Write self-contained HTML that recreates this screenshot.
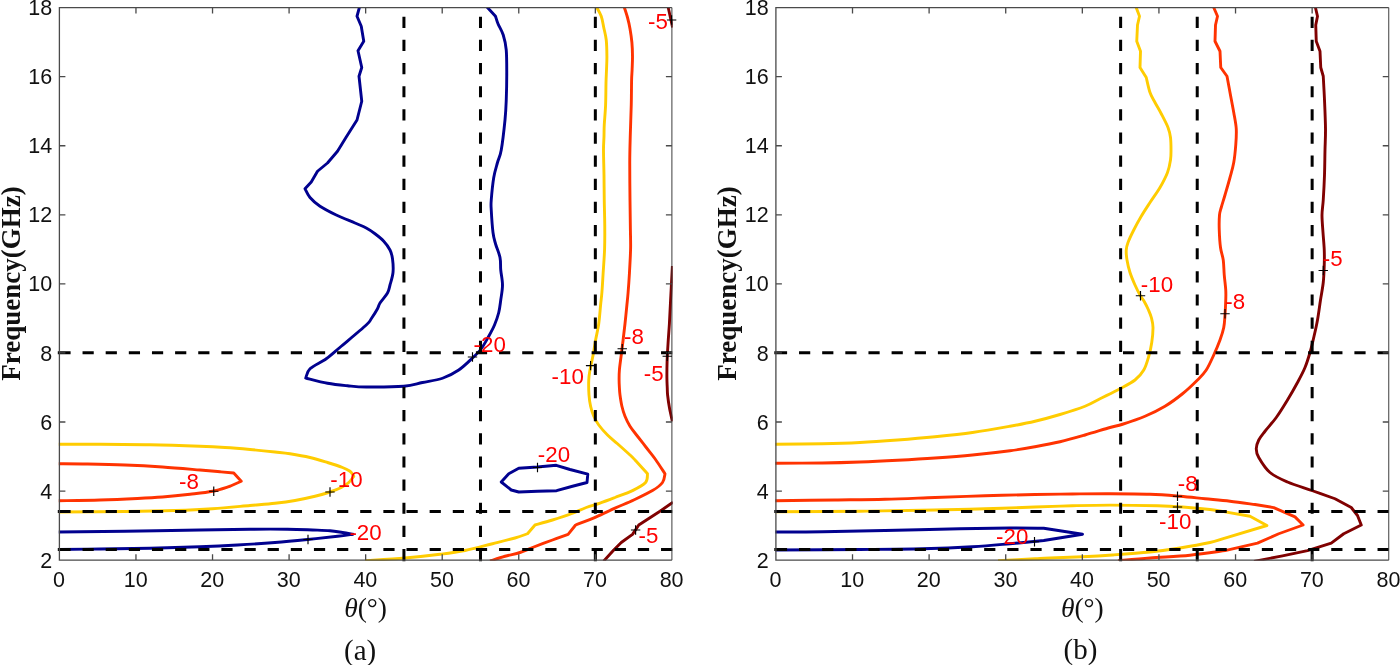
<!DOCTYPE html>
<html><head><meta charset="utf-8"><title>Contour plots</title>
<style>html,body{margin:0;padding:0;background:#fff}svg{display:block;will-change:transform;opacity:0.999}text{font-family:"Liberation Sans",sans-serif}.se{font-family:"Liberation Serif",serif}</style>
</head><body>
<svg width="1400" height="665" viewBox="0 0 1400 665">
<rect width="1400" height="665" fill="#fff"/>
<defs>
<clipPath id="cl"><rect x="58.80" y="7.20" width="613.90" height="553.45"/></clipPath>
<clipPath id="cr"><rect x="775.30" y="7.20" width="614.25" height="553.45"/></clipPath>
</defs>
<g clip-path="url(#cl)">
<path d="M359.50,7.00 L357.00,16.25 L361.25,26.25 L363.75,41.25 L358.00,50.75 L361.75,67.50 L359.00,76.25 L361.75,101.25 L357.00,120.00 L346.25,137.00 L337.50,151.25 L327.50,163.00 L317.50,171.25 L311.25,182.00 L305.00,188.75 L305.00,188.75 C305.83,190.21 307.50,194.58 310.00,197.50 C312.50,200.42 315.62,203.33 320.00,206.25 C324.38,209.17 330.42,212.21 336.25,215.00 C342.08,217.79 350.00,220.83 355.00,223.00 C360.00,225.17 362.92,226.21 366.25,228.00 C369.58,229.79 372.08,231.54 375.00,233.75 C377.92,235.96 381.25,238.54 383.75,241.25 C386.25,243.96 388.54,247.08 390.00,250.00 C391.46,252.92 392.00,255.00 392.50,258.75 C393.00,262.50 393.42,268.12 393.00,272.50 C392.58,276.88 390.92,281.58 390.00,285.00 C389.08,288.42 389.17,290.00 387.50,293.00 C385.83,296.00 381.67,300.38 380.00,303.00 C378.33,305.62 378.96,306.12 377.50,308.75 C376.04,311.38 373.12,316.04 371.25,318.75 C369.38,321.46 371.25,320.42 366.25,325.00 C361.25,329.58 347.92,340.62 341.25,346.25 C334.58,351.88 331.46,355.00 326.25,358.75 C321.04,362.50 313.42,365.54 310.00,368.75 C306.58,371.96 306.46,376.46 305.75,378.00 L305.75,378.00 C309.38,378.88 320.54,381.96 327.50,383.25 C334.46,384.54 341.04,385.12 347.50,385.75 C353.96,386.38 356.88,386.92 366.25,387.00 C375.62,387.08 394.38,387.00 403.75,386.25 C413.12,385.50 416.04,383.83 422.50,382.50 C428.96,381.17 436.46,380.33 442.50,378.25 C448.54,376.17 453.75,373.38 458.75,370.00 C463.75,366.62 468.75,361.54 472.50,358.00 C476.25,354.46 478.54,352.38 481.25,348.75 C483.96,345.12 486.54,340.21 488.75,336.25 C490.96,332.29 492.83,328.96 494.50,325.00 C496.17,321.04 497.71,316.67 498.75,312.50 C499.79,308.33 500.12,304.58 500.75,300.00 C501.38,295.42 502.50,290.00 502.50,285.00 C502.50,280.00 501.17,274.58 500.75,270.00 C500.33,265.42 500.88,261.88 500.00,257.50 C499.12,253.12 496.67,247.92 495.50,243.75 C494.33,239.58 493.71,238.12 493.00,232.50 C492.29,226.88 491.54,215.42 491.25,210.00 C490.96,204.58 490.83,205.42 491.25,200.00 C491.67,194.58 492.71,183.75 493.75,177.50 C494.79,171.25 496.25,167.08 497.50,162.50 C498.75,157.92 500.00,157.08 501.25,150.00 C502.50,142.92 504.17,128.33 505.00,120.00 C505.83,111.67 505.96,107.50 506.25,100.00 C506.54,92.50 506.75,83.33 506.75,75.00 C506.75,66.67 506.83,56.67 506.25,50.00 C505.67,43.33 504.62,39.38 503.25,35.00 C501.88,30.62 499.29,26.88 498.00,23.75 C496.71,20.62 495.92,17.50 495.50,16.25 L495.50,16.25 L487.00,7.00" fill="none" stroke="#00008F" stroke-width="2.9" stroke-linejoin="round" stroke-linecap="butt"/>
<path d="M501.25,482.00 L508.75,473.75 L518.75,468.25 L537.50,467.00 L556.25,465.30 L570.00,469.50 L587.80,474.20 L587.00,482.50 L572.50,486.25 L556.60,490.70 L537.50,491.25 L518.75,492.00 L511.25,490.00 L501.25,482.00Z" fill="none" stroke="#00008F" stroke-width="2.9" stroke-linejoin="round" stroke-linecap="butt"/>
<path d="M58.00,532.00 C69.17,531.88 101.33,531.58 125.00,531.25 C148.67,530.92 179.17,530.33 200.00,530.00 C220.83,529.67 235.42,529.38 250.00,529.25 C264.58,529.12 277.08,529.12 287.50,529.25 C297.92,529.38 305.42,529.75 312.50,530.00 C319.58,530.25 325.00,530.33 330.00,530.75 C335.00,531.17 338.67,531.92 342.50,532.50 C346.33,533.08 351.25,533.96 353.00,534.25 L353.00,534.25 C350.42,534.58 345.08,535.38 337.50,536.25 C329.92,537.12 317.92,538.46 307.50,539.50 C297.08,540.54 286.67,541.58 275.00,542.50 C263.33,543.42 250.00,544.29 237.50,545.00 C225.00,545.71 214.58,546.21 200.00,546.75 C185.42,547.29 166.67,547.88 150.00,548.25 C133.33,548.62 115.33,548.79 100.00,549.00 C84.67,549.21 65.00,549.42 58.00,549.50" fill="none" stroke="#00008F" stroke-width="2.9" stroke-linejoin="round" stroke-linecap="butt"/>
<path d="M58.00,444.25 C65.00,444.25 84.67,444.17 100.00,444.25 C115.33,444.33 133.33,444.42 150.00,444.75 C166.67,445.08 187.50,445.79 200.00,446.25 C212.50,446.71 216.67,446.96 225.00,447.50 C233.33,448.04 241.67,448.75 250.00,449.50 C258.33,450.25 268.33,451.29 275.00,452.00 C281.67,452.71 284.17,452.83 290.00,453.75 C295.83,454.67 303.75,456.04 310.00,457.50 C316.25,458.96 322.08,460.83 327.50,462.50 C332.92,464.17 338.75,466.04 342.50,467.50 C346.25,468.96 348.12,469.79 350.00,471.25 C351.88,472.71 353.12,475.42 353.75,476.25 L353.75,476.25 C352.92,477.29 350.83,480.62 348.75,482.50 C346.67,484.38 344.38,485.92 341.25,487.50 C338.12,489.08 334.38,490.54 330.00,492.00 C325.62,493.46 320.83,494.83 315.00,496.25 C309.17,497.67 301.67,499.33 295.00,500.50 C288.33,501.67 282.50,502.42 275.00,503.25 C267.50,504.08 260.42,504.58 250.00,505.50 C239.58,506.42 225.00,507.92 212.50,508.75 C200.00,509.58 189.58,510.04 175.00,510.50 C160.42,510.96 144.50,511.25 125.00,511.50 C105.50,511.75 69.17,511.92 58.00,512.00" fill="none" stroke="#FFCC00" stroke-width="2.9" stroke-linejoin="round" stroke-linecap="butt"/>
<path d="M58.00,463.75 C62.92,463.79 76.33,463.79 87.50,464.00 C98.67,464.21 112.50,464.50 125.00,465.00 C137.50,465.50 150.00,466.17 162.50,467.00 C175.00,467.83 190.42,469.21 200.00,470.00 C209.58,470.79 214.38,471.25 220.00,471.75 C225.62,472.25 231.46,472.79 233.75,473.00 L233.75,473.00 L241.25,481.25 L230.00,486.25 L230.00,486.25 C227.08,487.08 219.17,489.92 212.50,491.25 C205.83,492.58 198.33,493.29 190.00,494.25 C181.67,495.21 171.25,496.29 162.50,497.00 C153.75,497.71 147.92,498.00 137.50,498.50 C127.08,499.00 113.25,499.62 100.00,500.00 C86.75,500.38 65.00,500.62 58.00,500.75" fill="none" stroke="#FF3300" stroke-width="2.9" stroke-linejoin="round" stroke-linecap="butt"/>
<path d="M596.50,7.00 C597.29,8.54 600.04,12.83 601.25,16.25 C602.46,19.67 602.92,23.54 603.75,27.50 C604.58,31.46 605.73,35.21 606.25,40.00 C606.77,44.79 606.86,51.25 606.90,56.25 C606.94,61.25 606.65,65.58 606.50,70.00 C606.35,74.42 606.15,76.92 606.00,82.75 C605.85,88.58 605.89,97.96 605.60,105.00 C605.31,112.04 604.52,119.79 604.25,125.00 C603.98,130.21 604.12,132.08 604.00,136.25 C603.88,140.42 603.50,143.54 603.50,150.00 C603.50,156.46 603.88,166.67 604.00,175.00 C604.12,183.33 604.12,191.67 604.25,200.00 C604.38,208.33 604.69,216.88 604.75,225.00 C604.81,233.12 604.88,240.62 604.60,248.75 C604.33,256.88 603.55,266.46 603.10,273.75 C602.65,281.04 602.32,287.29 601.90,292.50 C601.48,297.71 601.12,299.79 600.60,305.00 C600.08,310.21 599.58,317.92 598.75,323.75 C597.92,329.58 596.54,334.79 595.60,340.00 C594.66,345.21 594.03,350.00 593.10,355.00 C592.17,360.00 590.73,365.83 590.00,370.00 C589.27,374.17 588.92,375.83 588.75,380.00 C588.58,384.17 588.69,390.62 589.00,395.00 C589.31,399.38 589.81,402.71 590.60,406.25 C591.39,409.79 592.39,413.12 593.75,416.25 C595.11,419.38 596.46,421.88 598.75,425.00 C601.04,428.12 604.38,431.88 607.50,435.00 C610.62,438.12 613.75,440.42 617.50,443.75 C621.25,447.08 627.08,452.29 630.00,455.00 C632.92,457.71 632.08,456.88 635.00,460.00 C637.92,463.12 645.42,471.46 647.50,473.75 L647.50,473.75 C647.18,475.21 648.10,479.69 645.60,482.50 C643.10,485.31 637.60,488.10 632.50,490.60 C627.40,493.10 620.42,495.42 615.00,497.50 C609.58,499.58 604.79,501.43 600.00,503.10 C595.21,504.77 591.04,505.73 586.25,507.50 C581.46,509.27 576.88,511.67 571.25,513.75 C565.62,515.83 558.54,518.12 552.50,520.00 C546.46,521.88 537.92,524.17 535.00,525.00 L535.00,525.00 L527.50,533.75 L527.50,533.75 C525.42,534.46 520.83,536.33 515.00,538.00 C509.17,539.67 500.83,541.67 492.50,543.75 C484.17,545.83 473.75,548.75 465.00,550.50 C456.25,552.25 450.00,553.00 440.00,554.25 C430.00,555.50 417.50,556.91 405.00,558.00 C392.50,559.09 371.67,560.33 365.00,560.80" fill="none" stroke="#FFCC00" stroke-width="2.9" stroke-linejoin="round" stroke-linecap="butt"/>
<path d="M624.20,7.00 C624.75,8.75 626.53,13.88 627.50,17.50 C628.47,21.12 629.27,24.58 630.00,28.75 C630.73,32.92 631.48,37.92 631.90,42.50 C632.32,47.08 632.47,51.67 632.50,56.25 C632.53,60.83 632.25,66.04 632.10,70.00 C631.95,73.96 631.74,74.17 631.60,80.00 C631.46,85.83 631.48,95.62 631.25,105.00 C631.02,114.38 630.50,126.62 630.25,136.25 C630.00,145.88 629.79,152.12 629.75,162.75 C629.71,173.38 629.89,188.79 630.00,200.00 C630.11,211.21 630.30,221.88 630.40,230.00 C630.50,238.12 630.77,241.46 630.60,248.75 C630.43,256.04 629.82,266.46 629.40,273.75 C628.98,281.04 628.52,287.29 628.10,292.50 C627.68,297.71 627.42,299.79 626.90,305.00 C626.38,310.21 625.63,317.92 625.00,323.75 C624.37,329.58 623.73,334.79 623.10,340.00 C622.48,345.21 621.87,350.00 621.25,355.00 C620.63,360.00 619.76,365.83 619.40,370.00 C619.04,374.17 619.10,377.04 619.10,380.00 C619.10,382.96 619.25,385.25 619.40,387.75 C619.55,390.25 619.58,391.92 620.00,395.00 C620.42,398.08 621.07,402.71 621.90,406.25 C622.73,409.79 623.65,412.92 625.00,416.25 C626.35,419.58 627.92,422.92 630.00,426.25 C632.08,429.58 634.79,432.71 637.50,436.25 C640.21,439.79 643.33,443.75 646.25,447.50 C649.17,451.25 651.88,454.38 655.00,458.75 C658.12,463.12 663.33,471.25 665.00,473.75 L665.00,473.75 C664.58,475.21 664.58,479.69 662.50,482.50 C660.42,485.31 657.29,487.68 652.50,490.60 C647.71,493.52 640.00,497.08 633.75,500.00 C627.50,502.92 621.25,505.28 615.00,508.10 C608.75,510.92 602.82,514.08 596.25,516.90 C589.68,519.72 579.04,523.65 575.60,525.00 L575.60,525.00 L568.10,534.40 L568.10,534.40 C565.50,535.33 558.43,537.82 552.50,540.00 C546.57,542.18 537.92,545.42 532.50,547.50 C527.08,549.58 524.58,551.04 520.00,552.50 C515.42,553.96 510.00,554.83 505.00,556.25 C500.00,557.67 492.50,560.21 490.00,561.00" fill="none" stroke="#FF3300" stroke-width="2.9" stroke-linejoin="round" stroke-linecap="butt"/>
<path d="M668.10,7.00 L672.60,27.50" fill="none" stroke="#800000" stroke-width="2.9" stroke-linejoin="round" stroke-linecap="butt"/>
<path d="M672.40,266.00 C672.10,271.67 671.10,290.38 670.60,300.00 C670.10,309.62 669.82,316.67 669.40,323.75 C668.98,330.83 668.48,336.25 668.10,342.50 C667.72,348.75 667.30,355.42 667.10,361.25 C666.90,367.08 666.88,373.08 666.90,377.50 C666.92,381.92 667.13,384.83 667.25,387.75 C667.37,390.67 667.24,391.71 667.60,395.00 C667.96,398.29 668.60,403.08 669.40,407.50 C670.20,411.92 671.90,419.17 672.40,421.50" fill="none" stroke="#800000" stroke-width="2.9" stroke-linejoin="round" stroke-linecap="butt"/>
<path d="M673.00,502.30 L660.00,511.25 L638.75,525.00 L632.50,534.40 L621.25,542.50 L613.75,550.00 L603.60,561.20" fill="none" stroke="#800000" stroke-width="2.9" stroke-linejoin="round" stroke-linecap="butt"/>
</g>
<path d="M57.80,352.69H70.60 M82.54,352.69H93.74 M105.68,352.69H116.88 M128.82,352.69H140.02 M151.96,352.69H163.16 M175.10,352.69H186.30 M198.24,352.69H209.44 M221.38,352.69H232.58 M244.52,352.69H255.72 M267.66,352.69H278.86 M290.80,352.69H302.00 M313.94,352.69H325.14 M337.08,352.69H348.28 M360.22,352.69H371.42 M383.36,352.69H394.56 M406.50,352.69H417.70 M429.64,352.69H440.84 M452.78,352.69H463.98 M475.92,352.69H487.12 M499.06,352.69H510.26 M522.20,352.69H533.40 M545.34,352.69H556.54 M568.48,352.69H579.68 M591.62,352.69H602.82 M614.76,352.69H625.96 M637.90,352.69H649.10 M661.04,352.69H672.24 M57.80,511.55H70.60 M82.54,511.55H93.74 M105.68,511.55H116.88 M128.82,511.55H140.02 M151.96,511.55H163.16 M175.10,511.55H186.30 M198.24,511.55H209.44 M221.38,511.55H232.58 M244.52,511.55H255.72 M267.66,511.55H278.86 M290.80,511.55H302.00 M313.94,511.55H325.14 M337.08,511.55H348.28 M360.22,511.55H371.42 M383.36,511.55H394.56 M406.50,511.55H417.70 M429.64,511.55H440.84 M452.78,511.55H463.98 M475.92,511.55H487.12 M499.06,511.55H510.26 M522.20,511.55H533.40 M545.34,511.55H556.54 M568.48,511.55H579.68 M591.62,511.55H602.82 M614.76,511.55H625.96 M637.90,511.55H649.10 M661.04,511.55H672.24 M57.80,549.54H70.60 M82.54,549.54H93.74 M105.68,549.54H116.88 M128.82,549.54H140.02 M151.96,549.54H163.16 M175.10,549.54H186.30 M198.24,549.54H209.44 M221.38,549.54H232.58 M244.52,549.54H255.72 M267.66,549.54H278.86 M290.80,549.54H302.00 M313.94,549.54H325.14 M337.08,549.54H348.28 M360.22,549.54H371.42 M383.36,549.54H394.56 M406.50,549.54H417.70 M429.64,549.54H440.84 M452.78,549.54H463.98 M475.92,549.54H487.12 M499.06,549.54H510.26 M522.20,549.54H533.40 M545.34,549.54H556.54 M568.48,549.54H579.68 M591.62,549.54H602.82 M614.76,549.54H625.96 M637.90,549.54H649.10 M661.04,549.54H672.24 M403.93,561.35V548.95 M403.93,537.01V525.81 M403.93,513.87V502.67 M403.93,490.73V479.53 M403.93,467.59V456.39 M403.93,444.45V433.25 M403.93,421.31V410.11 M403.93,398.17V386.97 M403.93,375.03V363.83 M403.93,351.89V340.69 M403.93,328.75V317.55 M403.93,305.61V294.41 M403.93,282.47V271.27 M403.93,259.33V248.13 M403.93,236.19V224.99 M403.93,213.05V201.85 M403.93,189.91V178.71 M403.93,166.77V155.57 M403.93,143.63V132.43 M403.93,120.49V109.29 M403.93,97.35V86.15 M403.93,74.21V63.01 M403.93,51.07V39.87 M403.93,27.93V16.73 M480.49,561.35V548.95 M480.49,537.01V525.81 M480.49,513.87V502.67 M480.49,490.73V479.53 M480.49,467.59V456.39 M480.49,444.45V433.25 M480.49,421.31V410.11 M480.49,398.17V386.97 M480.49,375.03V363.83 M480.49,351.89V340.69 M480.49,328.75V317.55 M480.49,305.61V294.41 M480.49,282.47V271.27 M480.49,259.33V248.13 M480.49,236.19V224.99 M480.49,213.05V201.85 M480.49,189.91V178.71 M480.49,166.77V155.57 M480.49,143.63V132.43 M480.49,120.49V109.29 M480.49,97.35V86.15 M480.49,74.21V63.01 M480.49,51.07V39.87 M480.49,27.93V16.73 M595.34,561.35V548.95 M595.34,537.01V525.81 M595.34,513.87V502.67 M595.34,490.73V479.53 M595.34,467.59V456.39 M595.34,444.45V433.25 M595.34,421.31V410.11 M595.34,398.17V386.97 M595.34,375.03V363.83 M595.34,351.89V340.69 M595.34,328.75V317.55 M595.34,305.61V294.41 M595.34,282.47V271.27 M595.34,259.33V248.13 M595.34,236.19V224.99 M595.34,213.05V201.85 M595.34,189.91V178.71 M595.34,166.77V155.57 M595.34,143.63V132.43 M595.34,120.49V109.29 M595.34,97.35V86.15 M595.34,74.21V63.01 M595.34,51.07V39.87 M595.34,27.93V16.73" fill="none" stroke="#000" stroke-width="3.0"/>
<path d="M671.90,7.60V560.15" fill="none" stroke="#333" stroke-width="0.95"/>
<path d="M671.90,7.60H59.40V560.15H671.90 M135.96,560.15v-6 M135.96,7.60v6 M212.53,560.15v-6 M212.53,7.60v6 M289.09,560.15v-6 M289.09,7.60v6 M365.65,560.15v-6 M365.65,7.60v6 M442.21,560.15v-6 M442.21,7.60v6 M518.77,560.15v-6 M518.77,7.60v6 M595.34,560.15v-6 M595.34,7.60v6 M59.40,491.08h6 M671.90,491.08h-6 M59.40,422.01h6 M671.90,422.01h-6 M59.40,352.94h6 M671.90,352.94h-6 M59.40,283.88h6 M671.90,283.88h-6 M59.40,214.81h6 M671.90,214.81h-6 M59.40,145.74h6 M671.90,145.74h-6 M59.40,76.67h6 M671.90,76.67h-6" fill="none" stroke="#4a4a4a" stroke-width="1.3"/>
<path d="M666.90,20.00h9.4M671.60,15.30v9.4 M467.80,357.00h9.4M472.50,352.30v9.4 M617.55,348.75h9.4M622.25,344.05v9.4 M585.90,365.60h9.4M590.60,360.90v9.4 M662.55,356.25h9.4M667.25,351.55v9.4 M532.80,467.50h9.4M537.50,462.80v9.4 M209.05,491.25h9.4M213.75,486.55v9.4 M325.30,492.00h9.4M330.00,487.30v9.4 M303.30,539.50h9.4M308.00,534.80v9.4 M630.90,530.00h9.4M635.60,525.30v9.4" fill="none" stroke="#000" stroke-width="1.15"/>
<text transform="translate(648.10,28.50) scale(1,1.025)" font-size="22.3" fill="#FF0000">-5</text>
<text transform="translate(473.60,351.80) scale(1,1.025)" font-size="22.3" fill="#FF0000">-20</text>
<text transform="translate(624.10,343.70) scale(1,1.025)" font-size="22.3" fill="#FF0000">-8</text>
<text transform="translate(551.60,384.10) scale(1,1.025)" font-size="22.3" fill="#FF0000">-10</text>
<text transform="translate(643.85,380.50) scale(1,1.025)" font-size="22.3" fill="#FF0000">-5</text>
<text transform="translate(537.85,462.20) scale(1,1.025)" font-size="22.3" fill="#FF0000">-20</text>
<text transform="translate(179.10,489.30) scale(1,1.025)" font-size="22.3" fill="#FF0000">-8</text>
<text transform="translate(330.35,486.80) scale(1,1.025)" font-size="22.3" fill="#FF0000">-10</text>
<text transform="translate(349.40,540.30) scale(1,1.025)" font-size="22.3" fill="#FF0000">-20</text>
<text transform="translate(638.50,543.00) scale(1,1.025)" font-size="22.3" fill="#FF0000">-5</text>
<text x="59.10" y="587.3" font-size="21.5" text-anchor="middle" fill="#111">0</text>
<text x="135.66" y="587.3" font-size="21.5" text-anchor="middle" fill="#111">10</text>
<text x="212.22" y="587.3" font-size="21.5" text-anchor="middle" fill="#111">20</text>
<text x="288.79" y="587.3" font-size="21.5" text-anchor="middle" fill="#111">30</text>
<text x="365.35" y="587.3" font-size="21.5" text-anchor="middle" fill="#111">40</text>
<text x="441.91" y="587.3" font-size="21.5" text-anchor="middle" fill="#111">50</text>
<text x="518.48" y="587.3" font-size="21.5" text-anchor="middle" fill="#111">60</text>
<text x="595.04" y="587.3" font-size="21.5" text-anchor="middle" fill="#111">70</text>
<text x="671.60" y="587.3" font-size="21.5" text-anchor="middle" fill="#111">80</text>
<text x="52.20" y="567.75" font-size="21.5" text-anchor="end" fill="#111">2</text>
<text x="52.20" y="498.68" font-size="21.5" text-anchor="end" fill="#111">4</text>
<text x="52.20" y="429.61" font-size="21.5" text-anchor="end" fill="#111">6</text>
<text x="52.20" y="360.54" font-size="21.5" text-anchor="end" fill="#111">8</text>
<text x="52.20" y="291.48" font-size="21.5" text-anchor="end" fill="#111">10</text>
<text x="52.20" y="222.41" font-size="21.5" text-anchor="end" fill="#111">12</text>
<text x="52.20" y="153.34" font-size="21.5" text-anchor="end" fill="#111">14</text>
<text x="52.20" y="84.27" font-size="21.5" text-anchor="end" fill="#111">16</text>
<text x="52.20" y="15.20" font-size="21.5" text-anchor="end" fill="#111">18</text>
<g clip-path="url(#cr)">
<path d="M1136.00,7.00 L1139.50,16.25 L1137.50,25.00 L1136.75,41.25 L1140.50,51.25 L1140.00,67.50 L1146.25,77.50 L1146.25,77.50 C1146.88,80.00 1148.54,88.33 1150.00,92.50 C1151.46,96.67 1153.12,98.96 1155.00,102.50 C1156.88,106.04 1159.08,109.58 1161.25,113.75 C1163.42,117.92 1166.46,123.54 1168.00,127.50 C1169.54,131.46 1170.00,133.75 1170.50,137.50 C1171.00,141.25 1171.00,146.25 1171.00,150.00 C1171.00,153.75 1171.08,156.25 1170.50,160.00 C1169.92,163.75 1169.25,167.92 1167.50,172.50 C1165.75,177.08 1162.92,182.50 1160.00,187.50 C1157.08,192.50 1153.12,197.71 1150.00,202.50 C1146.88,207.29 1143.96,211.67 1141.25,216.25 C1138.54,220.83 1135.96,225.62 1133.75,230.00 C1131.54,234.38 1129.25,239.17 1128.00,242.50 C1126.75,245.83 1126.42,247.08 1126.25,250.00 C1126.08,252.92 1126.38,256.25 1127.00,260.00 C1127.62,263.75 1128.67,268.33 1130.00,272.50 C1131.33,276.67 1133.33,281.25 1135.00,285.00 C1136.67,288.75 1138.42,292.17 1140.00,295.00 C1141.58,297.83 1143.08,299.50 1144.50,302.00 C1145.92,304.50 1147.33,307.33 1148.50,310.00 C1149.67,312.67 1150.75,315.08 1151.50,318.00 C1152.25,320.92 1152.96,323.42 1153.00,327.50 C1153.04,331.58 1152.46,337.71 1151.75,342.50 C1151.04,347.29 1150.08,351.67 1148.75,356.25 C1147.42,360.83 1146.04,366.04 1143.75,370.00 C1141.46,373.96 1138.96,376.88 1135.00,380.00 C1131.04,383.12 1125.83,385.62 1120.00,388.75 C1114.17,391.88 1105.83,395.83 1100.00,398.75 C1094.17,401.67 1091.67,403.62 1085.00,406.25 C1078.33,408.88 1068.33,412.00 1060.00,414.50 C1051.67,417.00 1043.33,419.29 1035.00,421.25 C1026.67,423.21 1020.42,424.38 1010.00,426.25 C999.58,428.12 985.00,430.75 972.50,432.50 C960.00,434.25 947.50,435.50 935.00,436.75 C922.50,438.00 910.00,439.04 897.50,440.00 C885.00,440.96 872.50,441.88 860.00,442.50 C847.50,443.12 836.75,443.46 822.50,443.75 C808.25,444.04 782.50,444.17 774.50,444.25" fill="none" stroke="#FFCC00" stroke-width="2.9" stroke-linejoin="round" stroke-linecap="butt"/>
<path d="M1213.50,7.00 L1217.50,16.25 L1215.50,25.00 L1215.00,41.25 L1220.00,51.25 L1220.75,67.50 L1227.00,76.25 L1227.00,76.25 C1227.50,78.96 1228.88,86.46 1230.00,92.50 C1231.12,98.54 1232.71,106.46 1233.75,112.50 C1234.79,118.54 1235.92,123.33 1236.25,128.75 C1236.58,134.17 1236.17,139.38 1235.75,145.00 C1235.33,150.62 1234.71,157.08 1233.75,162.50 C1232.79,167.92 1231.46,172.08 1230.00,177.50 C1228.54,182.92 1226.46,190.00 1225.00,195.00 C1223.54,200.00 1222.17,204.17 1221.25,207.50 C1220.33,210.83 1219.83,211.25 1219.50,215.00 C1219.17,218.75 1219.08,224.58 1219.25,230.00 C1219.42,235.42 1219.83,242.50 1220.50,247.50 C1221.17,252.50 1222.62,255.42 1223.25,260.00 C1223.88,264.58 1223.83,270.00 1224.25,275.00 C1224.67,280.00 1225.50,285.83 1225.75,290.00 C1226.00,294.17 1225.88,295.83 1225.75,300.00 C1225.62,304.17 1225.33,310.42 1225.00,315.00 C1224.67,319.58 1224.58,323.33 1223.75,327.50 C1222.92,331.67 1221.67,335.42 1220.00,340.00 C1218.33,344.58 1216.04,350.00 1213.75,355.00 C1211.46,360.00 1208.96,365.83 1206.25,370.00 C1203.54,374.17 1201.46,376.04 1197.50,380.00 C1193.54,383.96 1187.92,389.38 1182.50,393.75 C1177.08,398.12 1171.25,402.50 1165.00,406.25 C1158.75,410.00 1152.08,413.25 1145.00,416.25 C1137.92,419.25 1128.33,422.38 1122.50,424.25 C1116.67,426.12 1116.25,425.71 1110.00,427.50 C1103.75,429.29 1093.33,432.62 1085.00,435.00 C1076.67,437.38 1068.33,439.79 1060.00,441.75 C1051.67,443.71 1043.33,445.25 1035.00,446.75 C1026.67,448.25 1020.42,449.38 1010.00,450.75 C999.58,452.12 985.00,453.79 972.50,455.00 C960.00,456.21 947.50,457.12 935.00,458.00 C922.50,458.88 910.00,459.58 897.50,460.25 C885.00,460.92 872.50,461.54 860.00,462.00 C847.50,462.46 836.75,462.79 822.50,463.00 C808.25,463.21 782.50,463.21 774.50,463.25" fill="none" stroke="#FF3300" stroke-width="2.9" stroke-linejoin="round" stroke-linecap="butt"/>
<path d="M1315.30,7.00 L1317.50,16.25 L1315.75,25.00 L1316.25,41.25 L1320.00,51.25 L1320.75,67.50 L1323.25,76.25 L1323.25,76.25 C1323.46,80.21 1324.12,91.25 1324.50,100.00 C1324.88,108.75 1325.42,120.42 1325.50,128.75 C1325.58,137.08 1325.17,142.29 1325.00,150.00 C1324.83,157.71 1324.79,166.67 1324.50,175.00 C1324.21,183.33 1323.67,193.33 1323.25,200.00 C1322.83,206.67 1322.04,209.58 1322.00,215.00 C1321.96,220.42 1322.62,226.67 1323.00,232.50 C1323.38,238.33 1324.04,244.58 1324.25,250.00 C1324.46,255.42 1324.42,259.58 1324.25,265.00 C1324.08,270.42 1323.88,276.67 1323.25,282.50 C1322.62,288.33 1321.46,293.75 1320.50,300.00 C1319.54,306.25 1318.62,313.75 1317.50,320.00 C1316.38,326.25 1315.00,332.08 1313.75,337.50 C1312.50,342.92 1311.46,347.50 1310.00,352.50 C1308.54,357.50 1307.08,362.50 1305.00,367.50 C1302.92,372.50 1300.42,377.08 1297.50,382.50 C1294.58,387.92 1291.04,394.17 1287.50,400.00 C1283.96,405.83 1280.00,412.29 1276.25,417.50 C1272.50,422.71 1267.92,427.50 1265.00,431.25 C1262.08,435.00 1260.21,437.08 1258.75,440.00 C1257.29,442.92 1256.25,445.83 1256.25,448.75 C1256.25,451.67 1256.46,453.54 1258.75,457.50 C1261.04,461.46 1265.21,468.42 1270.00,472.50 C1274.79,476.58 1280.42,478.96 1287.50,482.00 C1294.58,485.04 1304.58,487.96 1312.50,490.75 C1320.42,493.54 1331.25,497.42 1335.00,498.75 L1335.00,498.75 L1351.25,507.50 L1357.50,515.50 L1361.25,525.00 L1343.75,533.75 L1331.25,543.10 L1307.50,550.60 L1282.50,555.90 L1254.00,561.30" fill="none" stroke="#800000" stroke-width="2.9" stroke-linejoin="round" stroke-linecap="butt"/>
<path d="M774.50,500.75 C784.58,500.62 816.58,500.25 835.00,500.00 C853.42,499.75 868.33,499.67 885.00,499.25 C901.67,498.83 918.33,498.08 935.00,497.50 C951.67,496.92 968.33,496.25 985.00,495.75 C1001.67,495.25 1020.42,494.79 1035.00,494.50 C1049.58,494.21 1060.00,494.12 1072.50,494.00 C1085.00,493.88 1097.08,493.71 1110.00,493.75 C1122.92,493.79 1138.33,493.83 1150.00,494.25 C1161.67,494.67 1170.83,495.50 1180.00,496.25 C1189.17,497.00 1196.67,497.92 1205.00,498.75 C1213.33,499.58 1221.67,500.29 1230.00,501.25 C1238.33,502.21 1250.83,503.96 1255.00,504.50 L1255.00,504.50 L1273.75,507.60 L1295.00,516.90 L1303.10,525.00 L1278.75,533.75 L1257.50,543.10 L1225.00,550.60 L1225.00,550.60 C1219.17,551.37 1202.50,553.97 1190.00,555.20 C1177.50,556.43 1162.00,557.07 1150.00,558.00 C1138.00,558.93 1123.33,560.33 1118.00,560.80" fill="none" stroke="#FF3300" stroke-width="2.9" stroke-linejoin="round" stroke-linecap="butt"/>
<path d="M774.50,511.75 C788.75,511.67 833.25,511.54 860.00,511.25 C886.75,510.96 914.17,510.42 935.00,510.00 C955.83,509.58 968.33,509.25 985.00,508.75 C1001.67,508.25 1020.42,507.50 1035.00,507.00 C1049.58,506.50 1060.00,506.07 1072.50,505.75 C1085.00,505.43 1095.83,505.10 1110.00,505.10 C1124.17,505.10 1145.42,505.43 1157.50,505.75 C1169.58,506.07 1173.75,506.38 1182.50,507.00 C1191.25,507.62 1202.92,508.68 1210.00,509.50 C1217.08,510.32 1222.50,511.50 1225.00,511.90 L1225.00,511.90 L1250.00,516.25 L1266.90,525.50 L1225.00,538.10 L1225.00,538.10 C1222.50,538.83 1217.50,540.85 1210.00,542.50 C1202.50,544.15 1190.00,546.42 1180.00,548.00 C1170.00,549.58 1161.25,550.83 1150.00,552.00 C1138.75,553.17 1123.75,554.21 1112.50,555.00 C1101.25,555.79 1092.92,556.25 1082.50,556.75 C1072.08,557.25 1057.92,557.67 1050.00,558.00 C1042.08,558.33 1043.67,558.28 1035.00,558.75 C1026.33,559.22 1004.17,560.46 998.00,560.80" fill="none" stroke="#FFCC00" stroke-width="2.9" stroke-linejoin="round" stroke-linecap="butt"/>
<path d="M774.50,532.00 C782.50,531.96 804.08,532.00 822.50,531.75 C840.92,531.50 862.08,531.00 885.00,530.50 C907.92,530.00 939.17,529.17 960.00,528.75 C980.83,528.33 996.04,528.08 1010.00,528.00 C1023.96,527.92 1038.12,528.21 1043.75,528.25 L1043.75,528.25 L1082.50,534.25 L1043.75,540.50 L1043.75,540.50 C1038.12,541.04 1021.88,542.71 1010.00,543.75 C998.12,544.79 987.08,545.92 972.50,546.75 C957.92,547.58 941.25,548.29 922.50,548.75 C903.75,549.21 884.67,549.29 860.00,549.50 C835.33,549.71 788.75,549.92 774.50,550.00" fill="none" stroke="#00008F" stroke-width="2.9" stroke-linejoin="round" stroke-linecap="butt"/>
</g>
<path d="M774.30,352.69H787.10 M799.04,352.69H810.24 M822.18,352.69H833.38 M845.32,352.69H856.52 M868.46,352.69H879.66 M891.60,352.69H902.80 M914.74,352.69H925.94 M937.88,352.69H949.08 M961.02,352.69H972.22 M984.16,352.69H995.36 M1007.30,352.69H1018.50 M1030.44,352.69H1041.64 M1053.58,352.69H1064.78 M1076.72,352.69H1087.92 M1099.86,352.69H1111.06 M1123.00,352.69H1134.20 M1146.14,352.69H1157.34 M1169.28,352.69H1180.48 M1192.42,352.69H1203.62 M1215.56,352.69H1226.76 M1238.70,352.69H1249.90 M1261.84,352.69H1273.04 M1284.98,352.69H1296.18 M1308.12,352.69H1319.32 M1331.26,352.69H1342.46 M1354.40,352.69H1365.60 M1377.54,352.69H1388.74 M774.30,511.55H787.10 M799.04,511.55H810.24 M822.18,511.55H833.38 M845.32,511.55H856.52 M868.46,511.55H879.66 M891.60,511.55H902.80 M914.74,511.55H925.94 M937.88,511.55H949.08 M961.02,511.55H972.22 M984.16,511.55H995.36 M1007.30,511.55H1018.50 M1030.44,511.55H1041.64 M1053.58,511.55H1064.78 M1076.72,511.55H1087.92 M1099.86,511.55H1111.06 M1123.00,511.55H1134.20 M1146.14,511.55H1157.34 M1169.28,511.55H1180.48 M1192.42,511.55H1203.62 M1215.56,511.55H1226.76 M1238.70,511.55H1249.90 M1261.84,511.55H1273.04 M1284.98,511.55H1296.18 M1308.12,511.55H1319.32 M1331.26,511.55H1342.46 M1354.40,511.55H1365.60 M1377.54,511.55H1388.74 M774.30,549.54H787.10 M799.04,549.54H810.24 M822.18,549.54H833.38 M845.32,549.54H856.52 M868.46,549.54H879.66 M891.60,549.54H902.80 M914.74,549.54H925.94 M937.88,549.54H949.08 M961.02,549.54H972.22 M984.16,549.54H995.36 M1007.30,549.54H1018.50 M1030.44,549.54H1041.64 M1053.58,549.54H1064.78 M1076.72,549.54H1087.92 M1099.86,549.54H1111.06 M1123.00,549.54H1134.20 M1146.14,549.54H1157.34 M1169.28,549.54H1180.48 M1192.42,549.54H1203.62 M1215.56,549.54H1226.76 M1238.70,549.54H1249.90 M1261.84,549.54H1273.04 M1284.98,549.54H1296.18 M1308.12,549.54H1319.32 M1331.26,549.54H1342.46 M1354.40,549.54H1365.60 M1377.54,549.54H1388.74 M1120.63,561.35V548.95 M1120.63,537.01V525.81 M1120.63,513.87V502.67 M1120.63,490.73V479.53 M1120.63,467.59V456.39 M1120.63,444.45V433.25 M1120.63,421.31V410.11 M1120.63,398.17V386.97 M1120.63,375.03V363.83 M1120.63,351.89V340.69 M1120.63,328.75V317.55 M1120.63,305.61V294.41 M1120.63,282.47V271.27 M1120.63,259.33V248.13 M1120.63,236.19V224.99 M1120.63,213.05V201.85 M1120.63,189.91V178.71 M1120.63,166.77V155.57 M1120.63,143.63V132.43 M1120.63,120.49V109.29 M1120.63,97.35V86.15 M1120.63,74.21V63.01 M1120.63,51.07V39.87 M1120.63,27.93V16.73 M1197.23,561.35V548.95 M1197.23,537.01V525.81 M1197.23,513.87V502.67 M1197.23,490.73V479.53 M1197.23,467.59V456.39 M1197.23,444.45V433.25 M1197.23,421.31V410.11 M1197.23,398.17V386.97 M1197.23,375.03V363.83 M1197.23,351.89V340.69 M1197.23,328.75V317.55 M1197.23,305.61V294.41 M1197.23,282.47V271.27 M1197.23,259.33V248.13 M1197.23,236.19V224.99 M1197.23,213.05V201.85 M1197.23,189.91V178.71 M1197.23,166.77V155.57 M1197.23,143.63V132.43 M1197.23,120.49V109.29 M1197.23,97.35V86.15 M1197.23,74.21V63.01 M1197.23,51.07V39.87 M1197.23,27.93V16.73 M1312.14,561.35V548.95 M1312.14,537.01V525.81 M1312.14,513.87V502.67 M1312.14,490.73V479.53 M1312.14,467.59V456.39 M1312.14,444.45V433.25 M1312.14,421.31V410.11 M1312.14,398.17V386.97 M1312.14,375.03V363.83 M1312.14,351.89V340.69 M1312.14,328.75V317.55 M1312.14,305.61V294.41 M1312.14,282.47V271.27 M1312.14,259.33V248.13 M1312.14,236.19V224.99 M1312.14,213.05V201.85 M1312.14,189.91V178.71 M1312.14,166.77V155.57 M1312.14,143.63V132.43 M1312.14,120.49V109.29 M1312.14,97.35V86.15 M1312.14,74.21V63.01 M1312.14,51.07V39.87 M1312.14,27.93V16.73" fill="none" stroke="#000" stroke-width="3.0"/>
<path d="M1388.75,7.60V560.15" fill="none" stroke="#333" stroke-width="0.95"/>
<path d="M1388.75,7.60H775.90V560.15H1388.75 M852.51,560.15v-6 M852.51,7.60v6 M929.11,560.15v-6 M929.11,7.60v6 M1005.72,560.15v-6 M1005.72,7.60v6 M1082.33,560.15v-6 M1082.33,7.60v6 M1158.93,560.15v-6 M1158.93,7.60v6 M1235.54,560.15v-6 M1235.54,7.60v6 M1312.14,560.15v-6 M1312.14,7.60v6 M775.90,491.08h6 M1388.75,491.08h-6 M775.90,422.01h6 M1388.75,422.01h-6 M775.90,352.94h6 M1388.75,352.94h-6 M775.90,283.88h6 M1388.75,283.88h-6 M775.90,214.81h6 M1388.75,214.81h-6 M775.90,145.74h6 M1388.75,145.74h-6 M775.90,76.67h6 M1388.75,76.67h-6" fill="none" stroke="#4a4a4a" stroke-width="1.3"/>
<path d="M1135.80,295.75h9.4M1140.50,291.05v9.4 M1220.30,313.75h9.4M1225.00,309.05v9.4 M1318.55,270.50h9.4M1323.25,265.80v9.4 M1172.80,496.25h9.4M1177.50,491.55v9.4 M1172.80,507.00h9.4M1177.50,502.30v9.4 M1029.80,541.75h9.4M1034.50,537.05v9.4" fill="none" stroke="#000" stroke-width="1.15"/>
<text transform="translate(1140.85,291.80) scale(1,1.025)" font-size="22.3" fill="#FF0000">-10</text>
<text transform="translate(1225.35,308.80) scale(1,1.025)" font-size="22.3" fill="#FF0000">-8</text>
<text transform="translate(1322.85,265.50) scale(1,1.025)" font-size="22.3" fill="#FF0000">-5</text>
<text transform="translate(1177.85,491.30) scale(1,1.025)" font-size="22.3" fill="#FF0000">-8</text>
<text transform="translate(1159.10,529.30) scale(1,1.025)" font-size="22.3" fill="#FF0000">-10</text>
<text transform="translate(996.10,544.20) scale(1,1.025)" font-size="22.3" fill="#FF0000">-20</text>
<text x="775.60" y="587.3" font-size="21.5" text-anchor="middle" fill="#111">0</text>
<text x="852.21" y="587.3" font-size="21.5" text-anchor="middle" fill="#111">10</text>
<text x="928.81" y="587.3" font-size="21.5" text-anchor="middle" fill="#111">20</text>
<text x="1005.42" y="587.3" font-size="21.5" text-anchor="middle" fill="#111">30</text>
<text x="1082.03" y="587.3" font-size="21.5" text-anchor="middle" fill="#111">40</text>
<text x="1158.63" y="587.3" font-size="21.5" text-anchor="middle" fill="#111">50</text>
<text x="1235.24" y="587.3" font-size="21.5" text-anchor="middle" fill="#111">60</text>
<text x="1311.84" y="587.3" font-size="21.5" text-anchor="middle" fill="#111">70</text>
<text x="1388.45" y="587.3" font-size="21.5" text-anchor="middle" fill="#111">80</text>
<text x="768.70" y="567.75" font-size="21.5" text-anchor="end" fill="#111">2</text>
<text x="768.70" y="498.68" font-size="21.5" text-anchor="end" fill="#111">4</text>
<text x="768.70" y="429.61" font-size="21.5" text-anchor="end" fill="#111">6</text>
<text x="768.70" y="360.54" font-size="21.5" text-anchor="end" fill="#111">8</text>
<text x="768.70" y="291.48" font-size="21.5" text-anchor="end" fill="#111">10</text>
<text x="768.70" y="222.41" font-size="21.5" text-anchor="end" fill="#111">12</text>
<text x="768.70" y="153.34" font-size="21.5" text-anchor="end" fill="#111">14</text>
<text x="768.70" y="84.27" font-size="21.5" text-anchor="end" fill="#111">16</text>
<text x="768.70" y="15.20" font-size="21.5" text-anchor="end" fill="#111">18</text>
<text class="se" x="365.60" y="617.2" font-size="27.5" text-anchor="middle" fill="#111"><tspan font-style="italic">θ</tspan>(°)</text>
<text class="se" x="1082.30" y="617.2" font-size="27.5" text-anchor="middle" fill="#111"><tspan font-style="italic">θ</tspan>(°)</text>
<text class="se" x="360.2" y="660.2" font-size="29" text-anchor="middle" fill="#111">(a)</text>
<text class="se" x="1080.4" y="659.4" font-size="29" text-anchor="middle" fill="#111">(b)</text>
<text class="se" transform="translate(20.0,283.4) rotate(-90)" font-size="27" font-weight="bold" text-anchor="middle" fill="#111">Frequency(GHz)</text>
<text class="se" transform="translate(736.1,283.4) rotate(-90)" font-size="27" font-weight="bold" text-anchor="middle" fill="#111">Frequency(GHz)</text>
</svg></body></html>
